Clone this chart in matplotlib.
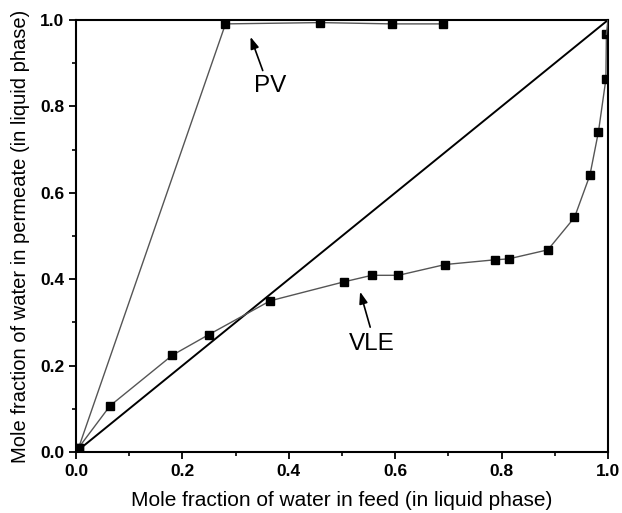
import numpy as np
import matplotlib.pyplot as plt
from matplotlib.ticker import MultipleLocator

plt.rcParams['font.family'] = ['Liberation Sans', 'DejaVu Sans']

# data
pv_x = [0.005, 0.281, 0.459, 0.594, 0.689]
pv_y = [0.010, 0.991, 0.994, 0.991, 0.991]

vle_x = [0.005, 0.064, 0.181, 0.250, 0.365, 0.504, 0.556, 0.606, 0.694,
         0.788, 0.813, 0.887, 0.937, 0.966, 0.982, 0.996, 0.997, 1.0]
vle_y = [0.010, 0.107, 0.224, 0.272, 0.350, 0.394, 0.409, 0.409, 0.434,
         0.445, 0.447, 0.468, 0.543, 0.641, 0.741, 0.863, 0.967, 1.0]

diag = [0.0, 1.0]

fig = plt.figure(figsize=(6.22, 5.13), dpi=100)
ax = fig.add_axes([0.1222, 0.1189, 0.8553, 0.8421])

ax.plot(diag, diag, color='black', lw=1.4, zorder=2)
ax.plot(pv_x, pv_y, color='#555555', lw=1.0, marker='s', ms=6,
        mfc='black', mec='black', zorder=3)
ax.plot(vle_x[:-1], vle_y[:-1], color='#555555', lw=1.0, marker='s', ms=6,
        mfc='black', mec='black', zorder=3)
ax.plot(vle_x[-2:], vle_y[-2:], color='#555555', lw=1.0, zorder=3)

arrow = dict(arrowstyle='-|>,head_length=0.7,head_width=0.25', color='black',
             lw=1.2, shrinkA=0, shrinkB=0)
ax.annotate('', xy=(0.328, 0.961), xytext=(0.351, 0.883), arrowprops=arrow)
ax.text(0.365, 0.848, 'PV', fontsize=17.5, ha='center', va='center')
ax.annotate('', xy=(0.534, 0.371), xytext=(0.553, 0.289), arrowprops=arrow)
ax.text(0.555, 0.250, 'VLE', fontsize=17.5, ha='center', va='center')

ax.set_xlim(0, 1.0)
ax.set_ylim(0, 1.0)
ax.xaxis.set_major_locator(MultipleLocator(0.2))
ax.xaxis.set_minor_locator(MultipleLocator(0.1))
ax.yaxis.set_major_locator(MultipleLocator(0.2))
ax.yaxis.set_minor_locator(MultipleLocator(0.1))
ax.tick_params(which='major', direction='out', length=5, width=1.3,
               labelsize=12.5, top=False, right=False)
ax.tick_params(which='minor', direction='out', length=3, width=1.2,
               top=False, right=False)
for lab in ax.get_xticklabels() + ax.get_yticklabels():
    lab.set_fontweight('bold')
for sp in ax.spines.values():
    sp.set_linewidth(1.5)

ax.set_xlabel('Mole fraction of water in feed (in liquid phase)', fontsize=15, labelpad=9)
ax.set_ylabel('Mole fraction of water in permeate (in liquid phase)', fontsize=14.5, labelpad=7)

fig.savefig('out.png', dpi=100)
